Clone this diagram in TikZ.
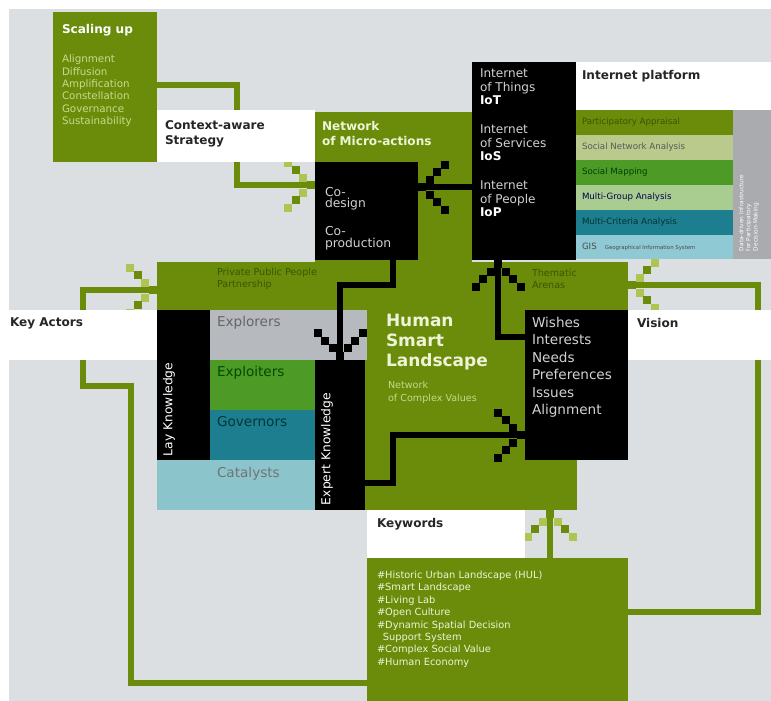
\documentclass[tikz,border=0pt]{standalone}
\usepackage{fontspec}
\setmainfont{DejaVu Sans}
\usepackage{xcolor}
\usepackage{tikz}
\usetikzlibrary{positioning,fit,calc}

\definecolor{hslgreen}{HTML}{6A8C0A}
\definecolor{hsllight}{HTML}{AFC553}
\definecolor{bggrey}{HTML}{DCDFE2}
\definecolor{explgrey}{HTML}{B6B9BD}
\definecolor{midgreen}{HTML}{4E9A26}
\definecolor{tealblue}{HTML}{1C7E8E}
\definecolor{paleblue}{HTML}{8CC4CC}
\definecolor{paleolive}{HTML}{BACA8C}
\definecolor{palegreen}{HTML}{A9CD90}
\definecolor{barblue}{HTML}{8FC9D3}
\definecolor{bargrey}{HTML}{A9ABAE}
\definecolor{txtlight}{HTML}{D2D2D2}
\definecolor{txtscale}{HTML}{C9DA8C}
\definecolor{txtolive}{HTML}{3C5500}
\definecolor{txthsl}{HTML}{EEF4D6}
\definecolor{txtsub}{HTML}{C5D98A}

\pgfdeclarelayer{back}
\pgfdeclarelayer{under}
\pgfsetlayers{back,under,main}

\newcommand{\fHead}{\fontsize{10.3}{13}\selectfont\bfseries}
\newcommand{\fBody}{\fontsize{11.6}{14.9}\selectfont}
\newcommand{\fSmall}{\fontsize{8.4}{10.6}\selectfont}
\newcommand{\fTiny}{\fontsize{7.4}{9}\selectfont}

\tikzset{
  area/.style={fill=#1, draw=none, inner sep=0pt},
  txt/.style={inner sep=0pt, anchor=north west, align=left},
  gline/.style={draw=hslgreen, line width=0.18cm},
  kline/.style={draw=black, line width=0.17cm},
  pics/pixhead/.style args={#1/#2}{code={
    \fill[#1] (-8,-4) rectangle ++(8,8);
    \fill[#2] (-15.5,-11.5) rectangle ++(8,8);
    \fill[#2] (-15.5,3.5) rectangle ++(8,8);
    \fill[#1] (-23,-19) rectangle ++(8,8);
    \fill[#1] (-23,11) rectangle ++(8,8);
    \fill[#2] (-30.5,-26.5) rectangle ++(8,8);
    \fill[#2] (-30.5,18.5) rectangle ++(8,8);
  }}
}

\begin{document}
\begin{tikzpicture}[x=0.03cm, y=-0.03cm]
  \useasboundingbox (0,0) rectangle (771,701);
  \begin{pgfonlayer}{back}
    \fill[white] (0,0) rectangle (771,701);
    \fill[bggrey] (9,9) rectangle (771,701);
  \end{pgfonlayer}

  % green landscape
  \node[area=hslgreen, fit={(315,112) (472,263)}] (network) {};
  \node[area=hslgreen, fit={(157,262) (473,310)}] (ppp) {};
  \node[area=hslgreen, fit={(471,262) (628,310)}] (arenas) {};
  \node[area=hslgreen, fit={(365,309) (577,510)}] (hsl) {};

  % scaling up
  \node[area=hslgreen, fit={(53,12) (157,162)}] (scaling) {};
  \node[area=white, fit={(157,110) (315,162)}] (strategy) {};

  % internet platform
  \node[area=black, fit={(472,62) (576,260)}] (iot) {};
  \node[area=white, fit={(576,62) (771,110)}] (platform) {};
  \node[area=hslgreen, fit={(576,110) (733,135)}] (pa) {};
  \node[area=paleolive, fit={(576,135) (733,160)}] (sna) {};
  \node[area=midgreen, fit={(576,160) (733,185)}] (sm) {};
  \node[area=palegreen, fit={(576,185) (733,210)}] (mga) {};
  \node[area=tealblue, fit={(576,210) (733,235)}] (mca) {};
  \node[area=barblue, fit={(576,235) (733,259)}] (gis) {};
  \node[area=bargrey, fit={(733,110) (771,259)}] (databar) {};

  \node[area=black, fit={(315,162) (418,260)}] (codesign) {};

  % key actors
  \node[area=white, fit={(0,310) (157,360)}] (keyactors) {};
  \node[area=black, fit={(157,310) (210,460)}] (lay) {};
  \node[area=explgrey, fit={(210,310) (367,360)}] (explorers) {};
  \node[area=midgreen, fit={(210,360) (315,410)}] (exploiters) {};
  \node[area=tealblue, fit={(210,410) (315,460)}] (governors) {};
  \node[area=paleblue, fit={(157,460) (315,510)}] (catalysts) {};
  \node[area=black, fit={(315,360) (365,510)}] (expert) {};

  % vision
  \node[area=black, fit={(525,310) (628,460)}] (wishes) {};
  \node[area=white, fit={(628,310) (771,360)}] (vision) {};

  % keywords
  \node[area=white, fit={(367,510) (525,558)}] (kwlabel) {};
  \node[area=hslgreen, fit={(367,558) (628,701)}] (keywords) {};

  % texts
  \node[txt, font=\fHead, text=white] (scalingT) at ([shift={(9,12)}]scaling.north west) {Scaling up};
  \node[txt, font=\fontsize{8.8}{10.5}\selectfont, text=txtscale] (scalingL) at ([shift={(9,43)}]scaling.north west)
    {Alignment\\Diffusion\\Amplification\\Constellation\\Governance\\Sustainability};
  \node[txt, font=\fontsize{10.3}{12}\selectfont\bfseries, text=black!85] (strategyT) at ([shift={(8,11)}]strategy.north west) {Context-aware\\Strategy};
  \node[txt, font=\fontsize{10.3}{13.5}\selectfont\bfseries, text=txthsl] (networkT) at ([shift={(7,9)}]network.north west) {Network\\of Micro-actions};
  \node[txt, font=\fontsize{10.5}{10}\selectfont, text=txtlight] (codesignT) at ([shift={(10,25)}]codesign.north west) {Co-\\design\\[14pt]Co-\\production};

  \node[txt, font=\fontsize{10.3}{11.5}\selectfont, text=txtlight] (iotT) at ([shift={(8,7)}]iot.north west) {Internet\\of Things\\\textbf{\color{white}IoT}};
  \node[txt, font=\fontsize{10.3}{11.5}\selectfont, text=txtlight] (iosT) at ([shift={(8,63)}]iot.north west) {Internet\\of Services\\\textbf{\color{white}IoS}};
  \node[txt, font=\fontsize{10.3}{11.5}\selectfont, text=txtlight] (iopT) at ([shift={(8,119)}]iot.north west) {Internet\\of People\\\textbf{\color{white}IoP}};
  \node[txt, font=\fHead, text=black!85] (platformT) at ([shift={(6,8)}]platform.north west) {Internet platform};

  \node[txt, anchor=west, font=\fTiny, text=txtolive] (paT) at ([xshift=6*0.03cm]pa.west) {Participatory Appraisal};
  \node[txt, anchor=west, font=\fTiny, text=black!65] (snaT) at ([xshift=6*0.03cm]sna.west) {Social Network Analysis};
  \node[txt, anchor=west, font=\fTiny, text=green!25!black] (smT) at ([xshift=6*0.03cm]sm.west) {Social Mapping};
  \node[txt, anchor=west, font=\fTiny, text=blue!30!black] (mgaT) at ([xshift=6*0.03cm]mga.west) {Multi-Group Analysis};
  \node[txt, anchor=west, font=\fTiny, text=teal!40!black] (mcaT) at ([xshift=6*0.03cm]mca.west) {Multi-Criteria Analysis};
  \node[txt, anchor=west, font=\fTiny, text=black!70] (gisT) at ([xshift=6*0.03cm]gis.west) {GIS \fontsize{4.6}{5}\selectfont\quad Geographical Information System};
  \node[txt, rotate=90, font=\fontsize{5}{6}\selectfont, text=white] (databarT) at ([shift={(6,-8)}]databar.south west)
    {Data-driven Infrastructure\\for Participatory\\Decision-Making};

  \node[txt, font=\fontsize{8.2}{10}\selectfont, text=txtolive] (pppT) at ([shift={(60,6)}]ppp.north west) {Private Public People\\Partnership};
  \node[txt, font=\fontsize{8.2}{10}\selectfont, text=txtolive] (arenasT) at ([shift={(61,7)}]arenas.north west) {Thematic\\Arenas};

  \node[txt, font=\fHead, text=black!85] (keyactorsT) at ([shift={(10,8)}]keyactors.north west) {Key Actors};
  \node[txt, font=\fBody, text=black!60] (explorersT) at ([shift={(7,6)}]explorers.north west) {Explorers};
  \node[txt, font=\fBody, text=green!30!black] (exploitersT) at ([shift={(7,6)}]exploiters.north west) {Exploiters};
  \node[txt, font=\fBody, text=teal!45!black] (governorsT) at ([shift={(7,6)}]governors.north west) {Governors};
  \node[txt, font=\fBody, text=black!55] (catalystsT) at ([shift={(60,7)}]catalysts.north west) {Catalysts};
  \node[txt, rotate=90, font=\fontsize{10.5}{12}\selectfont, text=white] (layT) at ([shift={(6,-4)}]lay.south west) {Lay Knowledge};
  \node[txt, rotate=90, font=\fontsize{10.5}{12}\selectfont, text=white] (expertT) at ([shift={(6,-5)}]expert.south west) {Expert Knowledge};

  \node[txt, font=\fontsize{14.5}{17}\selectfont\bfseries, text=txthsl] (hslT) at ([shift={(21,5)}]hsl.north west) {Human\\Smart\\Landscape};
  \node[txt, font=\fontsize{8.2}{11.5}\selectfont, text=txtsub] (hslS) at ([shift={(23,72)}]hsl.north west) {Network\\of Complex Values};

  \node[txt, font=\fBody, text=txtlight] (wishesT) at ([shift={(7,7)}]wishes.north west)
    {Wishes\\Interests\\Needs\\Preferences\\Issues\\Alignment};
  \node[txt, font=\fHead, text=black!85] (visionT) at ([shift={(9,8)}]vision.north west) {Vision};

  \node[txt, font=\fHead, text=black!85] (kwlabelT) at ([shift={(10,8)}]kwlabel.north west) {Keywords};
  \node[txt, font=\fSmall, text=txthsl] (keywordsT) at ([shift={(10,13)}]keywords.north west)
    {\#Historic Urban Landscape (HUL)\\\#Smart Landscape\\\#Living Lab\\\#Open Culture\\\#Dynamic Spatial Decision\\\hspace{0.6em}Support System\\\#Complex Social Value\\\#Human Economy};

  % black connectors
  \draw[kline] (iot.west |- 0,187) -- (codesign.east |- 0,187);
  \pic[rotate=180] at (codesign.east |- 0,187) {pixhead=black/black};
  \draw[kline] (codesign.south -| 393,0) |- (340,285) -- (expert.north -| 340,0);
  \pic[rotate=-90] at (expert.north -| 340,0) {pixhead=black/black};
  \draw[kline] (wishes.west |- 0,337) -| (iot.south -| 498,0);
  \pic[rotate=90] at (iot.south -| 498,0) {pixhead=black/black};
  \draw[kline] (expert.east |- 0,483) -| (393,435) -- (wishes.west |- 0,435);
  \pic at (wishes.west |- 0,435) {pixhead=black/black};

  % green connectors
  \begin{pgfonlayer}{under}
    \draw[gline] (scaling.east |- 0,85) -| (237,185) -- (codesign.west |- 0,185);
    \pic at (codesign.west |- 0,185) {pixhead=hslgreen/hsllight};
    \draw[gline] (keywords.west |- 0,683) -| (131,386) -| (83,290) -- (ppp.west |- 0,290);
    \pic at (ppp.west |- 0,290) {pixhead=hslgreen/hsllight};
    \draw[gline] (keywords.east |- 0,612) -| (758,285) -- (arenas.east |- 0,285);
    \pic[rotate=180] at (arenas.east |- 0,285) {pixhead=hslgreen/hsllight};
    \draw[gline] (keywords.north -| 550,0) -- (hsl.south -| 550,0);
    \pic[rotate=90] at (hsl.south -| 550,0) {pixhead=hslgreen/hsllight};
  \end{pgfonlayer}
\end{tikzpicture}
\end{document}
